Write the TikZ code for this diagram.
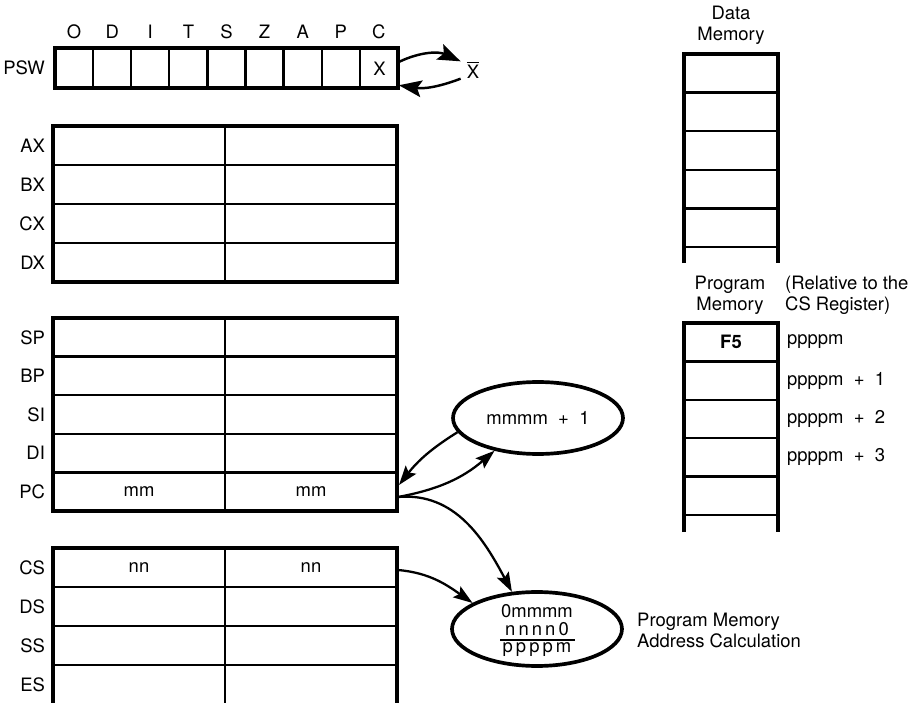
\documentclass[tikz,border=0pt]{standalone}
\usepackage{fontspec}
\setmainfont{TeX Gyre Heros}
\usetikzlibrary{arrows.meta,shapes.geometric}

\tikzset{
  regbox/.style={line width=2.3pt},
  regline/.style={line width=1.3pt},
  lbl/.style={inner sep=1pt},
  calcell/.style={ellipse, draw, line width=2.1pt, minimum width=3.4cm},
  flow/.style={line width=1.3pt, -{Stealth[length=11pt,width=7.5pt,inset=2pt]}},
  flowbig/.style={line width=1.4pt, -{Stealth[length=13pt,width=9.5pt,inset=2.5pt]}},
}

\begin{document}
\begin{tikzpicture}[x=0.02cm, y=0.02cm, font=\fontsize{10.5}{12}\selectfont]
  \useasboundingbox (0,0) rectangle (921,-703);

  % PSW flags
  \draw[regbox] (55,-48) rectangle (398,-88);
  \foreach \i in {1,...,8}
    \draw[regline] (55+38.1*\i,-48) -- (55+38.1*\i,-88);
  \foreach \f [count=\i] in {O,D,I,T,S,Z,A,P,C}
    \node[lbl] (flag\f) at (55+38.1*\i-19,-32) {\f};
  \node[lbl, anchor=east] (psw) at (47,-68) {PSW};
  \node[minimum width=0.76cm, minimum height=0.8cm, inner sep=0pt] (xbit) at (379.5,-69) {X};
  \node (xbar) at (473,-70) {$\overline{\mbox{X}}$};
  \draw[flowbig] (xbit.20) to[bend left=25] (xbar.145);
  \draw[flowbig] (xbar.215) to[bend left=15] (xbit.320);

  % General registers
  \draw[regbox] (53,-126) rectangle (397,-282);
  \draw[regline] (225,-126) -- (225,-282);
  \foreach \y in {165,204,243}
    \draw[regline] (53,-\y) -- (397,-\y);
  \foreach \r/\y in {AX/145.5,BX/184.5,CX/223.5,DX/262.5}
    \node[lbl, anchor=east] (reg\r) at (47,-\y) {\r};

  % Pointer and index registers
  \draw[regbox] (53,-318) rectangle (397,-511);
  \draw[regline] (225,-318) -- (225,-511);
  \foreach \y in {356.6,395.2,433.8,472.4}
    \draw[regline] (53,-\y) -- (397,-\y);
  \foreach \r/\y in {SP/337.3,BP/375.9,SI/414.5,DI/453.1,PC/491.7}
    \node[lbl, anchor=east] (reg\r) at (47,-\y) {\r};
  \node (pcH) at (139,-491.7) {mm};
  \node (pcL) at (311,-491.7) {mm};

  % Segment registers
  \draw[regbox] (53,-703) -- (53,-548) -- (397,-548) -- (397,-703);
  \draw[regline] (225,-548) -- (225,-703);
  \foreach \y in {587,626,665}
    \draw[regline] (53,-\y) -- (397,-\y);
  \foreach \r/\y in {CS/567.5,DS/606.5,SS/645.5,ES/684.5}
    \node[lbl, anchor=east] (reg\r) at (47,-\y) {\r};
  \node (csH) at (139,-567.5) {nn};
  \node (csL) at (311,-567.5) {nn};

  % Data memory
  \node[align=center] (dmem) at (731,-25) {Data\\Memory};
  \draw[regbox] (684,-263) -- (684,-54) -- (778,-54) -- (778,-263);
  \foreach \y in {92.6,131.2,169.8,208.4,247}
    \draw[regline] (684,-\y) -- (778,-\y);

  % Program memory
  \node[align=center] (pmem) at (730,-295) {Program\\Memory};
  \node[align=left, anchor=west] (rel) at (779,-295) {(Relative to the\\CS Register)};
  \draw[regbox] (684,-532) -- (684,-323) -- (778,-323) -- (778,-532);
  \foreach \y in {361.4,399.8,438.2,476.6,515}
    \draw[regline] (684,-\y) -- (778,-\y);
  \node (f5) at (731,-342) {\textbf{F5}};
  \node[anchor=west] (addr0) at (781,-342) {ppppm};
  \foreach \a/\y in {1/380.6,2/419,3/457.4}
    \node[anchor=west] (addr\a) at (781,-\y) {ppppm\ \ +\ \ \a};

  % Increment and address calculation
  \node[calcell, minimum height=1.44cm] (inc) at (538,-418) {mmmm\ \ +\ \ 1};
  \node[calcell, minimum height=1.48cm] (calc) at (537,-629) {};
  \node (calc1) at (537,-611) {0mmmm};
  \node (calc2) at (537,-629) {n\,n\,n\,n\,0};
  \draw[line width=1.1pt] (500,-640) -- (575,-640);
  \node (calc3) at (537,-650) {p\,p\,p\,p\,m};
  \node[align=left, anchor=west] (calclbl) at (631,-630) {Program Memory\\Address Calculation};

  % Connectors
  \coordinate (pcin) at (399,-485);
  \coordinate (pcout) at (398,-497);
  \coordinate (csout) at (398,-570);
  \draw[flow] (inc.190) to[bend right=10] (pcin);
  \draw[flow] (pcout) to[bend right=15] (inc.217);
  \draw[flow] (pcout) to[out=5,in=118] (calc.124);
  \draw[flow] (csout) to[out=-5,in=145] (calc.158);
\end{tikzpicture}
\end{document}
